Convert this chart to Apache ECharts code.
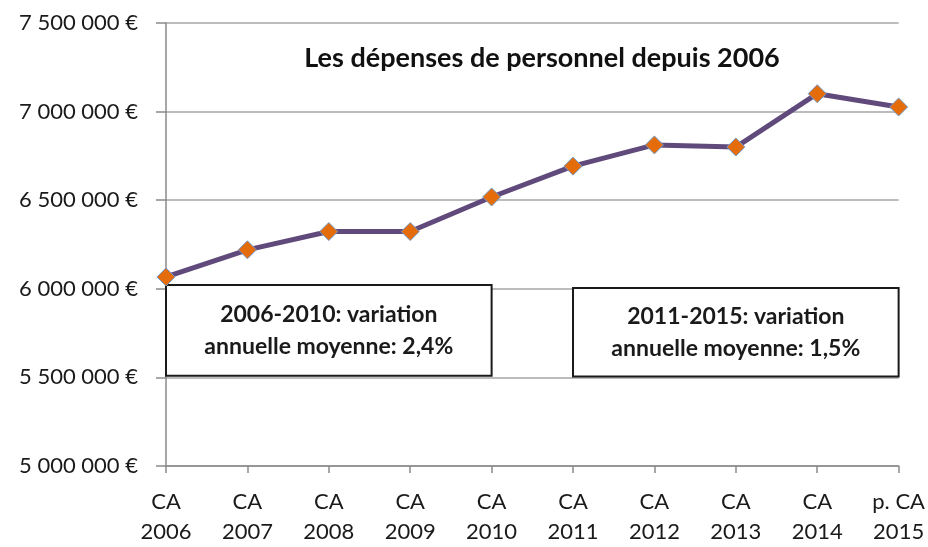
<!DOCTYPE html>
<html>
<head>
<meta charset="utf-8">
<script src="https://cdn.jsdelivr.net/npm/echarts@6/dist/echarts.min.js"></script>
<style>
html,body{margin:0;padding:0;background:#fff;}
#chart{width:928px;height:547px;}
</style>
</head>
<body>
<div id="chart"></div>
<script>
const categories = ['CA\n2006','CA\n2007','CA\n2008','CA\n2009','CA\n2010','CA\n2011','CA\n2012','CA\n2013','CA\n2014','p. CA\n2015'];
const depenses = [6067000, 6220000, 6323000, 6323000, 6518000, 6692000, 6812000, 6800000, 7101000, 7026000];
const yTicks = { min: 5000000, max: 7500000, interval: 500000 };
const titleText = 'Les dépenses de personnel depuis 2006';
const note1 = '2006-2010: variation\nannuelle moyenne: 2,4%';
const note2 = '2011-2015: variation\nannuelle moyenne: 1,5%';
const note1Range = { x: ['CA\n2006', 'CA\n2010'], y: [5510000, 6022000] };
const note2Range = { x: ['CA\n2011', 'p. CA\n2015'], y: [5505000, 6005000] };

const FONT = 'Lato, "Open Sans", sans-serif';
function fmt(v){
  return String(v).replace(/\B(?=(\d{3})+(?!\d))/g, ' ') + ' €';
}
const chart = echarts.init(document.getElementById('chart'));
chart.setOption({
  backgroundColor: '#fff',
  animation: false,
  title: {
    text: titleText,
    left: 537, top: 40, textAlign: 'center',
    textStyle: { fontFamily: FONT, fontSize: 27, fontWeight: 'bold', color: '#111' }
  },
  grid: { left: 166, right: 28, top: 23, bottom: 77, containLabel: false },
  xAxis: {
    type: 'category',
    data: categories,
    boundaryGap: false,
    axisLine: { lineStyle: { color: '#8a8a8a', width: 1.5 } },
    axisTick: { show: true, length: 7, lineStyle: { color: '#8a8a8a', width: 1.5 } },
    axisLabel: { fontFamily: FONT, fontSize: 22, color: '#1a1a1a', lineHeight: 30, margin: 21 },
    splitLine: { show: false }
  },
  yAxis: {
    type: 'value',
    min: yTicks.min, max: yTicks.max, interval: yTicks.interval,
    axisLine: { show: true, lineStyle: { color: '#8a8a8a', width: 1.5 } },
    axisTick: { show: true, length: 10, lineStyle: { color: '#8a8a8a', width: 1.5 } },
    axisLabel: { fontFamily: FONT, fontSize: 22, color: '#1a1a1a', margin: 28, formatter: fmt },
    splitLine: { lineStyle: { color: '#a6a6a6', width: 1.5 } }
  },
  series: [{
    type: 'line',
    data: depenses,
    symbol: 'diamond',
    symbolSize: 18,
    lineStyle: { color: '#604a7b', width: 5 },
    itemStyle: { color: '#e46c0a', borderColor: '#6f9bd1', borderWidth: 1 },
    z: 5,
    markArea: {
      silent: true,
      itemStyle: { color: '#fff', borderColor: '#1a1a1a', borderWidth: 2 },
      label: {
        position: 'inside',
        fontFamily: FONT, fontSize: 23, fontWeight: 'bold', color: '#1a1a1a', lineHeight: 32, align: 'center'
      },
      data: [
        [{ name: note1, xAxis: note1Range.x[0], yAxis: note1Range.y[1] }, { xAxis: note1Range.x[1], yAxis: note1Range.y[0] }],
        [{ name: note2, xAxis: note2Range.x[0], yAxis: note2Range.y[1] }, { xAxis: note2Range.x[1], yAxis: note2Range.y[0] }]
      ]
    }
  }]
});
</script>
</body>
</html>
